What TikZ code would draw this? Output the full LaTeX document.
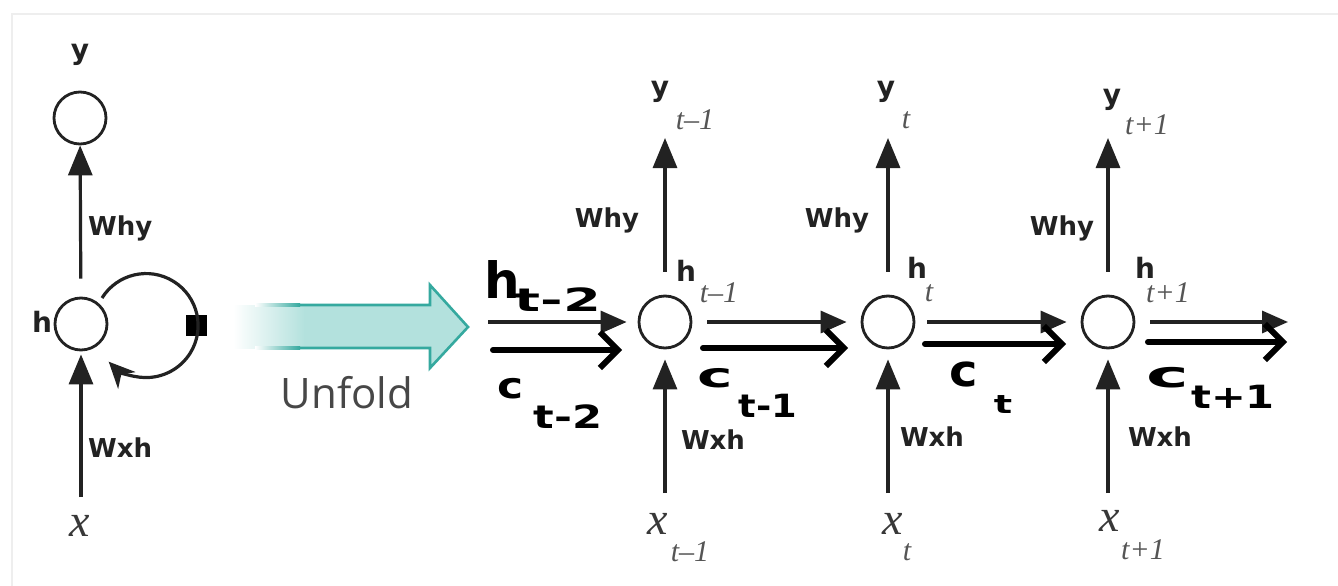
\documentclass[tikz,border=0pt]{standalone}
\usepackage{fontspec}
\usepackage{graphicx}
\setmainfont{Liberation Serif}
\newfontfamily\lblfont{DejaVu Sans}
\newfontfamily\unffont{Open Sans}
\newfontfamily\handfont{DejaVu Sans}
\usetikzlibrary{arrows.meta}
\definecolor{ink}{HTML}{222222}
\definecolor{subgray}{HTML}{555555}
\definecolor{tealfill}{HTML}{B3E1DD}
\definecolor{tealline}{HTML}{35A99F}
\definecolor{framegray}{HTML}{EEEEEE}
\begin{document}
\begin{tikzpicture}[x=1pt,y=-1pt,
  neuron/.style={circle, draw=ink, line width=2.8pt, minimum size=52pt, inner sep=0pt},
  arr/.style={line width=3.2pt, draw=ink, -{Triangle[length=30pt,width=24pt]}},
  thinarr/.style={line width=3.4pt, draw=ink, -{Triangle[length=26pt,width=22pt]}},
  thickarr/.style={line width=6pt, draw=black, line cap=round, -{Straight Barb[length=18pt,width=36pt,line width=6pt]}},
  wlbl/.style={font=\lblfont\bfseries\fontsize{26}{30}\selectfont, text=ink, inner sep=0pt},
  vlbl/.style={font=\lblfont\bfseries\fontsize{28}{30}\selectfont, text=ink, inner sep=0pt},
  sublbl/.style={font=\fontsize{30}{32}\selectfont\itshape, text=subgray, inner sep=0pt},
  xlbl/.style={font=\fontsize{46}{48}\selectfont\itshape, text=ink!90, inner sep=0pt},
  handbig/.style={font=\handfont\bfseries\fontsize{50}{52}\selectfont, text=black, inner sep=0pt},
  handc/.style={font=\handfont\bfseries\fontsize{40}{42}\selectfont, text=black, inner sep=0pt},
  handsub/.style={font=\handfont\bfseries\fontsize{32}{34}\selectfont, text=black, inner sep=0pt},
  unfoldlbl/.style={font=\unffont\fontsize{42}{44}\selectfont, text=black!72, inner sep=0pt}
]
\useasboundingbox (0,0) rectangle (1338,586);
\fill[white] (0,0) rectangle (1338,586);
\draw[framegray, line width=1.5pt] (12,586) -- (12,14) -- (1338,14);

% ---------------- folded network ----------------
\node[neuron] (ycirc) at (80,118) {};
\node[neuron] (hcirc) at (81,324) {};
\node[vlbl] (ylbl) at (80,55) {y};
\node[vlbl] (hlbl) at (42,322) {h};
\node[wlbl, anchor=west] (whyL) at (88,228) {Why};
\node[wlbl, anchor=west] (wxhL) at (88,448) {Wxh};
\node[xlbl] (xlbl) at (80,526) {x};
\coordinate (xin) at (81,497);
\draw[arr, shorten <=18pt] (hcirc) -- (ycirc);
\draw[arr, shorten >=3pt] (xin) -- (hcirc);
\node[fill=black, minimum size=21pt, inner sep=0pt] (delay) at (196,325) {};
\draw[line width=3.2pt, draw=ink, -{Stealth[length=26pt,width=24pt,inset=8pt]}]
  (102,298) arc[start angle=-148, end angle=136, radius=52];

% ---------------- unfold arrow ----------------
\shade[left color=white, right color=tealfill] (233,305) rectangle (305,348);
\fill[tealfill] (304,305) rectangle (432,348);
\fill[tealfill] (430,285) -- (468,327) -- (430,368) -- cycle;
\shade[left color=white, right color=tealline] (255,303.8) rectangle (300,306.4);
\shade[left color=white, right color=tealline] (255,346.8) rectangle (300,349.4);
\draw[tealline, line width=2.6pt, line join=miter]
  (300,305) -- (430,305) -- (430,285) -- (468,327) -- (430,368) -- (430,348) -- (300,348);
\node[unfoldlbl] (unfold) at (347,393) {Unfold};

% ---------------- unfolded network ----------------
% node t-1
\node[neuron] (h1) at (665,322) {};
\coordinate (y1) at (665,138);
\coordinate (x1) at (665,493);
\draw[arr, shorten <=23pt] (h1) -- (y1);
\draw[arr, shorten >=10pt] (x1) -- (h1);
\node[vlbl] (y1lbl) at (660,92) {y};
\node[sublbl] (y1sub) at (695,120) {t–1};
\node[wlbl] (why1) at (607,220) {Why};
\node[vlbl] (h1lbl) at (686,271) {h};
\node[sublbl] (h1sub) at (719,293) {t–1};
\node[wlbl] (wxh1) at (713,440) {Wxh};
\node[xlbl] (x1lbl) at (658,524) {x};
\node[sublbl] (x1sub) at (690,552) {t–1};

% node t
\node[neuron] (h2) at (888,322) {};
\coordinate (y2) at (888,138);
\coordinate (x2) at (888,493);
\draw[arr, shorten <=23pt] (h2) -- (y2);
\draw[arr, shorten >=10pt] (x2) -- (h2);
\node[vlbl] (y2lbl) at (886,92) {y};
\node[sublbl] (y2sub) at (906,120) {t};
\node[wlbl] (why2) at (837,220) {Why};
\node[vlbl] (h2lbl) at (917,268) {h};
\node[sublbl] (h2sub) at (929,293) {t};
\node[wlbl] (wxh2) at (932,437) {Wxh};
\node[xlbl] (x2lbl) at (893,524) {x};
\node[sublbl] (x2sub) at (907,552) {t};

% node t+1
\node[neuron] (h3) at (1108,322) {};
\coordinate (y3) at (1108,138);
\coordinate (x3) at (1108,493);
\draw[arr, shorten <=23pt] (h3) -- (y3);
\draw[arr, shorten >=10pt] (x3) -- (h3);
\node[vlbl] (y3lbl) at (1112,100) {y};
\node[sublbl] (y3sub) at (1147,125) {t+1};
\node[wlbl] (why3) at (1062,228) {Why};
\node[vlbl] (h3lbl) at (1145,268) {h};
\node[sublbl] (h3sub) at (1168,293) {t+1};
\node[wlbl] (wxh3) at (1160,437) {Wxh};
\node[xlbl] (x3lbl) at (1110,521) {x};
\node[sublbl] (x3sub) at (1143,550) {t+1};

% ---------------- recurrent connections ----------------
\coordinate (hin) at (488,322);
\coordinate (cin) at (493,350);
\draw[thinarr, shorten >=11pt] (hin) -- (h1);
\draw[thickarr] (cin) -- (622,350);
\draw[thinarr, shorten <=15pt, shorten >=14pt] (h1) -- (h2);
\draw[thickarr] (703,348) -- (848,348);
\draw[thinarr, shorten <=12pt, shorten >=14pt] (h2) -- (h3);
\draw[thickarr] (925,344) -- (1066,344);
\coordinate (hout) at (1288,322);
\coordinate (cout) at (1148,342);
\draw[thinarr, shorten <=15pt] (h3) -- (hout);
\draw[thickarr] (cout) -- (1287,342);

% ---------------- handwritten labels ----------------
\node[handbig] (hh) at (502,280) {h};
\node[handsub] (hhsub) at (558,300) {\scalebox{1.7}[1]{t-2}};
\node[handc] (c0) at (511,389) {\scalebox{1.1}[0.9]{c}};
\node[handsub] (c0sub) at (568,417) {\scalebox{1.35}[1]{t-2}};
\node[handc] (c1) at (715,378) {\scalebox{1.5}[0.85]{c}};
\node[handsub] (c1sub) at (768,406) {\scalebox{1.15}[1]{t-1}};
\node[handc] (c2) at (964,374) {\scalebox{1.2}[1.1]{c}};
\node[handsub] (c2sub) at (1003,405) {\scalebox{1.2}[0.8]{t}};
\node[handc] (c3) at (1168,378) {\scalebox{1.8}[0.9]{c}};
\node[handsub] (c3sub) at (1233,397) {\scalebox{1.3}[1]{t+1}};
\end{tikzpicture}
\end{document}
